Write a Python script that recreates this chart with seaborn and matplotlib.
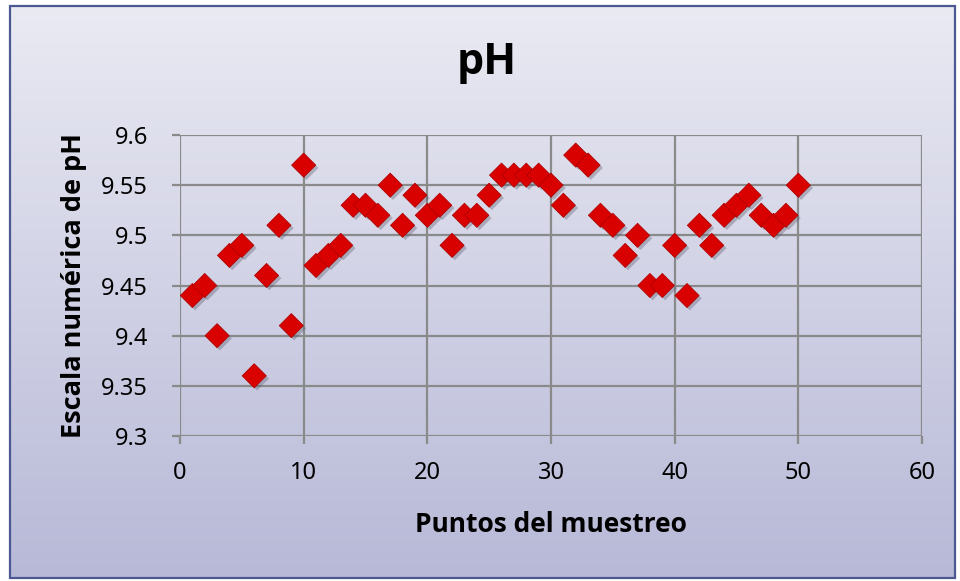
import numpy as np
import pandas as pd
import matplotlib
matplotlib.use("Agg")
import matplotlib.pyplot as plt
import matplotlib.patheffects as pe
from matplotlib.patches import Rectangle
import seaborn as sns

# Sampling points and measured pH
puntos = list(range(1, 51))
ph = [9.44, 9.45, 9.40, 9.48, 9.49, 9.36, 9.46, 9.51, 9.41, 9.57,
      9.47, 9.48, 9.49, 9.53, 9.53, 9.52, 9.55, 9.51, 9.54, 9.52,
      9.53, 9.49, 9.52, 9.52, 9.54, 9.56, 9.56, 9.56, 9.56, 9.55,
      9.53, 9.58, 9.57, 9.52, 9.51, 9.48, 9.50, 9.45, 9.45, 9.49,
      9.44, 9.51, 9.49, 9.52, 9.53, 9.54, 9.52, 9.51, 9.52, 9.55]
x_ticks = [0, 10, 20, 30, 40, 50, 60]
y_ticks = [9.3, 9.35, 9.4, 9.45, 9.5, 9.55, 9.6]
y_tick_labels = ["9.3", "9.35", "9.4", "9.45", "9.5", "9.55", "9.6"]

df = pd.DataFrame({"Punto": puntos, "pH": ph})

sns.set_theme(style="white")
plt.rcParams["font.family"] = ["Noto Sans", "DejaVu Sans"]
plt.rcParams["text.color"] = "black"
plt.rcParams["axes.labelcolor"] = "black"
bold_family = ["Open Sans", "DejaVu Sans"]

fig = plt.figure(figsize=(9.6, 5.81), dpi=100)
fig.patch.set_facecolor("white")

# Gradient chart-area background with a dark border
bg = fig.add_axes([0, 0, 1, 1], zorder=0)
bg.set_xlim(0, 960)
bg.set_ylim(581, 0)
bg.axis("off")
top = np.array([0.918, 0.918, 0.953])
bot = np.array([0.718, 0.725, 0.843])
t = np.linspace(0, 1, 256)[:, None]
grad = top[None, :] * (1 - t) + bot[None, :] * t
grad = np.repeat(grad[:, None, :], 2, axis=1)
bg.imshow(grad, extent=[10, 955, 578, 6], aspect="auto", interpolation="bilinear")
bg.add_patch(Rectangle((10, 6), 945, 572, fill=False, edgecolor="#4b5891", linewidth=1.6))

ax = fig.add_axes([0.1875, 0.2496, 0.7729, 0.518], zorder=1)
ax.patch.set_alpha(0)

sns.scatterplot(data=df, x="Punto", y="pH", marker="D", s=150, color="#d90000",
                edgecolor="#b00000", linewidth=0.6, ax=ax, zorder=3,
                path_effects=[pe.SimplePatchShadow(offset=(2, -2), shadow_rgbFace="#555566", alpha=0.35),
                              pe.Normal()])

ax.set_xlim(0, 60)
ax.set_ylim(9.3, 9.6)
ax.set_xticks(x_ticks)
ax.set_yticks(y_ticks)
ax.set_yticklabels(y_tick_labels)
ax.grid(True, color="#8a8a8a", linewidth=1.6)
ax.set_axisbelow(True)
for s in ax.spines.values():
    s.set_visible(False)
ax.tick_params(axis="both", which="major", direction="out", length=6, width=1.6,
               color="#8a8a8a", labelsize=17, labelcolor="black",
               bottom=True, left=True)
ax.tick_params(axis="y", pad=17)
ax.tick_params(axis="x", pad=12)

ax.set_xlabel("Puntos del muestreo", fontsize=19, fontweight="bold",
              family=bold_family, labelpad=19)
ax.set_ylabel("Escala numérica de pH", fontsize=19.5, fontweight="bold",
              family=bold_family, labelpad=10)
fig.text(0.507, 0.893, "pH", fontsize=31, fontweight="bold", family=bold_family,
         ha="center", va="center")

fig.savefig("out.png", dpi=100)
